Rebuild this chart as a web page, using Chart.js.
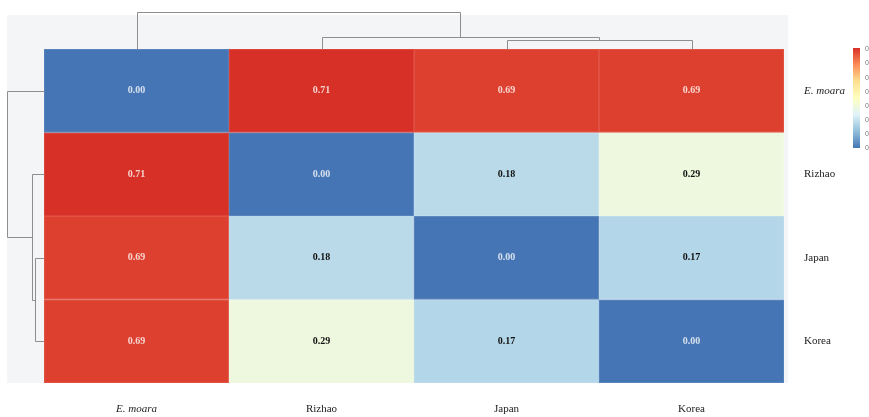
<!DOCTYPE html>
<html>
<head>
<meta charset="utf-8">
<script src="https://cdn.jsdelivr.net/npm/chart.js@4.4.1/dist/chart.umd.min.js"></script>
<style>
html, body { margin: 0; padding: 0; background: #fff; }
#wrap { width: 869px; height: 417px; }
</style>
</head>
<body>
<div id="wrap"><canvas id="heatmap"></canvas></div>
<script>
// Pairwise distances between populations (symmetric matrix, one array per row)
const samples = ['E. moara', 'Rizhao', 'Japan', 'Korea'];
const rowMoara = [0.00, 0.71, 0.69, 0.69];
const rowRizhao = [0.71, 0.00, 0.18, 0.29];
const rowJapan = [0.69, 0.18, 0.00, 0.17];
const rowKorea = [0.69, 0.29, 0.17, 0.00];
const distRows = [rowMoara, rowRizhao, rowJapan, rowKorea];

// Colour key
const keyTicks = [0, 0.1, 0.2, 0.3, 0.4, 0.5, 0.6, 0.7];
const keyMax = 0.71;
const palette = ['#4575B4', '#91BFDB', '#E0F3F8', '#FFFFBF', '#FEE090', '#FC8D59', '#D73027'];

const serif = '"Liberation Serif", "DejaVu Serif", serif';

function hexToRgb(h) {
    const n = parseInt(h.slice(1), 16);
    return [(n >> 16) & 255, (n >> 8) & 255, n & 255];
}

function rgbFor(v) {
    const t = Math.max(0, Math.min(1, v / keyMax)) * (palette.length - 1);
    const i = Math.min(palette.length - 2, Math.floor(t));
    const f = t - i;
    const a = hexToRgb(palette[i]), b = hexToRgb(palette[i + 1]);
    return a.map((x, k) => Math.round(x + (b[k] - x) * f));
}

function colorFor(v) {
    const c = rgbFor(v);
    return `rgb(${c[0]},${c[1]},${c[2]})`;
}

// cell outline: the fill colour pushed a little towards white
function edgeFor(v) {
    const c = rgbFor(v).map(x => Math.round(x + (255 - x) * 0.14));
    return `rgb(${c[0]},${c[1]},${c[2]})`;
}

function isDark(v) {
    const t = v / keyMax;
    return t < 0.15 || t > 0.7;
}

// Average-linkage clustering, leaf positions are the matrix indices
function averageLinkage(d) {
    let clusters = d.map((_, i) => ({ members: [i], pos: i, height: 0 }));
    const merges = [];
    while (clusters.length > 1) {
        let best = null;
        for (let a = 0; a < clusters.length; a++) {
            for (let b = a + 1; b < clusters.length; b++) {
                let s = 0;
                clusters[a].members.forEach(m => clusters[b].members.forEach(n => { s += d[m][n]; }));
                const avg = s / (clusters[a].members.length * clusters[b].members.length);
                if (!best || avg < best.dist) best = { a, b, dist: avg };
            }
        }
        const A = clusters[best.a], B = clusters[best.b];
        const merged = {
            members: A.members.concat(B.members),
            pos: (A.pos + B.pos) / 2,
            height: best.dist,
            left: A,
            right: B
        };
        merges.push(merged);
        clusters = clusters.filter((_, i) => i !== best.a && i !== best.b).concat(merged);
    }
    return merges;
}

const merges = averageLinkage(distRows);
const rootHeight = merges[merges.length - 1].height;

// --- background panel, dendrograms and colour key ---
const decorPlugin = {
    id: 'decor',
    beforeDraw(chart) {
        const { ctx, chartArea: area } = chart;
        ctx.save();
        ctx.fillStyle = '#fff';
        ctx.fillRect(0, 0, chart.width, chart.height);
        ctx.fillStyle = '#f4f5f7';
        ctx.fillRect(7, 15, area.right + 4 - 7, area.bottom - 15);
        ctx.restore();
    },
    afterDraw(chart) {
        const { ctx, chartArea: area, scales } = chart;
        const span = 37;
        const k = span / rootHeight;
        ctx.save();
        ctx.strokeStyle = '#8e8e8e';
        ctx.lineWidth = 1;

        // column tree above the grid
        const colX = p => Math.round(scales.x.getPixelForValue(p)) + 0.5;
        const colY = h => Math.round(area.top - h * k) + 0.5;
        merges.forEach(m => {
            ctx.beginPath();
            ctx.moveTo(colX(m.left.pos), colY(m.left.height));
            ctx.lineTo(colX(m.left.pos), colY(m.height));
            ctx.lineTo(colX(m.right.pos), colY(m.height));
            ctx.lineTo(colX(m.right.pos), colY(m.right.height));
            ctx.stroke();
        });

        // row tree left of the grid
        const rowY = p => Math.round(scales.y.getPixelForValue(p + 0.5)) + 0.5;
        const rowX = h => Math.round(area.left - h * k) + 0.5;
        merges.forEach(m => {
            ctx.beginPath();
            ctx.moveTo(rowX(m.left.height), rowY(m.left.pos));
            ctx.lineTo(rowX(m.height), rowY(m.left.pos));
            ctx.lineTo(rowX(m.height), rowY(m.right.pos));
            ctx.lineTo(rowX(m.right.height), rowY(m.right.pos));
            ctx.stroke();
        });

        // colour key
        const kx = 853, ky = 48, kw = 7, kh = 100;
        const grad = ctx.createLinearGradient(0, ky + kh, 0, ky);
        palette.forEach((c, i) => grad.addColorStop(i / (palette.length - 1), c));
        ctx.fillStyle = grad;
        ctx.fillRect(kx, ky, kw, kh);
        ctx.fillStyle = '#777';
        ctx.font = '7px "Liberation Sans", sans-serif';
        ctx.textBaseline = 'middle';
        ctx.textAlign = 'left';
        keyTicks.forEach(t => {
            ctx.fillText(t.toFixed(1), kx + kw + 5, ky + kh - t / keyMax * kh);
        });
        ctx.restore();
    }
};

// --- numbers inside the cells ---
const cellTextPlugin = {
    id: 'cellText',
    afterDatasetsDraw(chart) {
        const { ctx } = chart;
        ctx.save();
        ctx.textAlign = 'center';
        ctx.textBaseline = 'middle';
        chart.data.datasets.forEach((ds, r) => {
            chart.getDatasetMeta(r).data.forEach((bar, c) => {
                const v = distRows[r][c];
                const dark = isDark(v);
                ctx.font = 'bold 10px ' + serif;
                ctx.fillStyle = dark ? 'rgba(255,255,255,0.78)' : '#111';
                ctx.fillText(v.toFixed(2), bar.x, (bar.y + bar.base) / 2);
            });
        });
        ctx.restore();
    }
};

const datasets = distRows.map((row, r) => ({
    label: samples[r],
    data: row.map(() => [r, r + 1]),
    backgroundColor: row.map(colorFor),
    borderColor: row.map(edgeFor),
    borderWidth: 1,
    borderSkipped: false,
    barPercentage: 1,
    categoryPercentage: 1,
    grouped: false
}));

const labelFont = ctx => ({
    family: serif,
    size: 11,
    style: ctx.index === 0 ? 'italic' : 'normal'
});

new Chart(document.getElementById('heatmap'), {
    type: 'bar',
    data: { labels: samples, datasets },
    options: {
        responsive: true,
        maintainAspectRatio: false,
        animation: false,
        layout: { padding: { left: 44, top: 49, right: 0, bottom: 0 } },
        plugins: { legend: { display: false }, tooltip: { enabled: false } },
        scales: {
            x: {
                grid: { display: false },
                border: { display: false },
                ticks: { color: '#222', font: labelFont, padding: 12, maxRotation: 0 },
                afterFit(axis) { axis.height = 34; }
            },
            y: {
                position: 'right',
                min: 0,
                max: samples.length,
                reverse: true,
                grid: { display: false },
                border: { display: false },
                afterBuildTicks(axis) {
                    axis.ticks = samples.map((_, i) => ({ value: i + 0.5 }));
                },
                ticks: {
                    color: '#222',
                    font: labelFont,
                    padding: 12,
                    callback: (v, i) => samples[i]
                },
                afterFit(axis) { axis.width = 85; }
            }
        }
    },
    plugins: [decorPlugin, cellTextPlugin]
});
</script>
</body>
</html>
